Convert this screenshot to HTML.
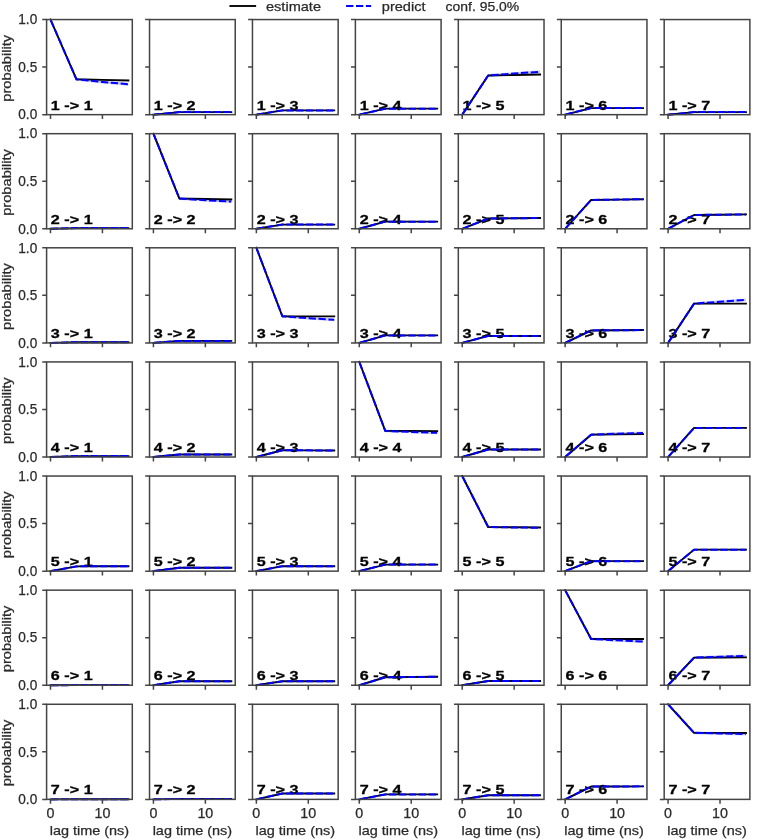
<!DOCTYPE html><html><head><meta charset="utf-8"><title>CK test</title><style>
html,body{margin:0;padding:0;background:#fff;}
svg{display:block;will-change:transform;}
text{font-family:"Liberation Sans",sans-serif;}
.r{stroke:#2a2a2a;stroke-width:0.25px;}
.b{font-weight:bold;stroke:#000;stroke-width:0.3px;}
</style></head><body>
<svg width="759" height="839" viewBox="0 0 759 839">
<rect x="0" y="0" width="759" height="839" fill="#fff"/>
<g>
<g>
<line x1="230.4" y1="6" x2="255.2" y2="6" stroke="#000" stroke-width="1.88" stroke-linecap="square"/>
<line x1="346.1" y1="6" x2="371.1" y2="6" stroke="#00f" stroke-width="1.88" stroke-dasharray="7.3 2.6"/>
<text x="266" y="10.65" font-size="13.2" class="r" fill="#2a2a2a" textLength="55" lengthAdjust="spacingAndGlyphs">estimate</text>
<text x="381.8" y="10.65" font-size="13.2" class="r" fill="#2a2a2a" textLength="43.67" lengthAdjust="spacingAndGlyphs">predict</text>
<text x="445.6" y="10.65" font-size="13.2" class="r" fill="#2a2a2a" textLength="73.59" lengthAdjust="spacingAndGlyphs">conf. 95.0%</text>
</g>
<g><text x="50.89" y="109.66" font-size="13.2" class="b" fill="#000" textLength="41.76" lengthAdjust="spacingAndGlyphs">1 -&gt; 1</text><polygon points="50.5,18.16 76.47,77.88 102.43,80.6 128.4,82.83 128.4,85.63 102.43,83.4 76.47,80.68 50.5,20.96" fill="#ccccff"/><polyline points="50.5,19.56 76.47,79.28 102.43,79.9 128.4,80.52" fill="none" stroke="#000" stroke-width="1.88" stroke-linejoin="round" stroke-linecap="square"/><polyline points="50.5,19.56 76.47,79.28 102.43,82 128.4,84.23" fill="none" stroke="#00f" stroke-width="2" stroke-dasharray="7.3 2.6" stroke-dashoffset="-0.6" stroke-linejoin="round"/><rect x="46.6" y="19.56" width="85.7" height="95.1" fill="none" stroke="#444" stroke-width="1.5"/><path d="M42.23 114.66H46.6M42.23 67.11H46.6M42.23 19.56H46.6M50.5 114.66V119.03M102.43 114.66V119.03" stroke="#444" stroke-width="1.5" fill="none"/><text x="37.2" y="119.4" font-size="13.8" class="r" fill="#2a2a2a" text-anchor="end" textLength="18.9" lengthAdjust="spacingAndGlyphs">0.0</text><text x="37.2" y="71.85" font-size="13.8" class="r" fill="#2a2a2a" text-anchor="end" textLength="18.9" lengthAdjust="spacingAndGlyphs">0.5</text><text x="37.2" y="24.3" font-size="13.8" class="r" fill="#2a2a2a" text-anchor="end" textLength="18.9" lengthAdjust="spacingAndGlyphs">1.0</text><text transform="translate(11 68.31) rotate(-90)" font-size="13.2" class="r" fill="#2a2a2a" text-anchor="middle" textLength="66.7" lengthAdjust="spacingAndGlyphs">probability</text></g>
<g><text x="153.81" y="109.66" font-size="13.2" class="b" fill="#000" textLength="41.76" lengthAdjust="spacingAndGlyphs">1 -&gt; 2</text><polyline points="153.43,114.66 179.4,112.09 205.36,112.09 231.33,112.09" fill="none" stroke="#000" stroke-width="1.88" stroke-linejoin="round" stroke-linecap="square"/><polyline points="153.43,114.66 179.4,112.09 205.36,112.09 231.33,112.09" fill="none" stroke="#00f" stroke-width="2" stroke-dasharray="7.3 2.6" stroke-dashoffset="-0.6" stroke-linejoin="round"/><rect x="149.53" y="19.56" width="85.7" height="95.1" fill="none" stroke="#444" stroke-width="1.5"/><path d="M145.16 114.66H149.53M145.16 67.11H149.53M145.16 19.56H149.53M153.43 114.66V119.03M205.36 114.66V119.03" stroke="#444" stroke-width="1.5" fill="none"/></g>
<g><text x="256.75" y="109.66" font-size="13.2" class="b" fill="#000" textLength="41.76" lengthAdjust="spacingAndGlyphs">1 -&gt; 3</text><polyline points="256.36,114.66 282.33,110.38 308.29,110.38 334.26,110.38" fill="none" stroke="#000" stroke-width="1.88" stroke-linejoin="round" stroke-linecap="square"/><polyline points="256.36,114.66 282.33,110.38 308.29,110.38 334.26,110.38" fill="none" stroke="#00f" stroke-width="2" stroke-dasharray="7.3 2.6" stroke-dashoffset="-0.6" stroke-linejoin="round"/><rect x="252.46" y="19.56" width="85.7" height="95.1" fill="none" stroke="#444" stroke-width="1.5"/><path d="M248.09 114.66H252.46M248.09 67.11H252.46M248.09 19.56H252.46M256.36 114.66V119.03M308.29 114.66V119.03" stroke="#444" stroke-width="1.5" fill="none"/></g>
<g><text x="359.68" y="109.66" font-size="13.2" class="b" fill="#000" textLength="41.76" lengthAdjust="spacingAndGlyphs">1 -&gt; 4</text><polyline points="359.29,114.66 385.26,108.67 411.22,108.67 437.19,108.67" fill="none" stroke="#000" stroke-width="1.88" stroke-linejoin="round" stroke-linecap="square"/><polyline points="359.29,114.66 385.26,108.67 411.22,108.67 437.19,108.67" fill="none" stroke="#00f" stroke-width="2" stroke-dasharray="7.3 2.6" stroke-dashoffset="-0.6" stroke-linejoin="round"/><rect x="355.39" y="19.56" width="85.7" height="95.1" fill="none" stroke="#444" stroke-width="1.5"/><path d="M351.02 114.66H355.39M351.02 67.11H355.39M351.02 19.56H355.39M359.29 114.66V119.03M411.22 114.66V119.03" stroke="#444" stroke-width="1.5" fill="none"/></g>
<g><text x="462.61" y="109.66" font-size="13.2" class="b" fill="#000" textLength="41.76" lengthAdjust="spacingAndGlyphs">1 -&gt; 5</text><polygon points="462.22,113.26 488.19,74.08 514.15,72.18 540.12,70.37 540.12,73.17 514.15,74.98 488.19,76.88 462.22,116.06" fill="#ccccff"/><polyline points="462.22,114.66 488.19,75.48 514.15,75 540.12,74.53" fill="none" stroke="#000" stroke-width="1.88" stroke-linejoin="round" stroke-linecap="square"/><polyline points="462.22,114.66 488.19,75.48 514.15,73.58 540.12,71.77" fill="none" stroke="#00f" stroke-width="2" stroke-dasharray="7.3 2.6" stroke-dashoffset="-0.6" stroke-linejoin="round"/><rect x="458.32" y="19.56" width="85.7" height="95.1" fill="none" stroke="#444" stroke-width="1.5"/><path d="M453.95 114.66H458.32M453.95 67.11H458.32M453.95 19.56H458.32M462.22 114.66V119.03M514.15 114.66V119.03" stroke="#444" stroke-width="1.5" fill="none"/></g>
<g><text x="565.54" y="109.66" font-size="13.2" class="b" fill="#000" textLength="41.76" lengthAdjust="spacingAndGlyphs">1 -&gt; 6</text><polyline points="565.15,114.66 591.12,108.1 617.08,108.1 643.05,108.1" fill="none" stroke="#000" stroke-width="1.88" stroke-linejoin="round" stroke-linecap="square"/><polyline points="565.15,114.66 591.12,108.1 617.08,108.1 643.05,108.1" fill="none" stroke="#00f" stroke-width="2" stroke-dasharray="7.3 2.6" stroke-dashoffset="-0.6" stroke-linejoin="round"/><rect x="561.25" y="19.56" width="85.7" height="95.1" fill="none" stroke="#444" stroke-width="1.5"/><path d="M556.88 114.66H561.25M556.88 67.11H561.25M556.88 19.56H561.25M565.15 114.66V119.03M617.08 114.66V119.03" stroke="#444" stroke-width="1.5" fill="none"/></g>
<g><text x="668.47" y="109.66" font-size="13.2" class="b" fill="#000" textLength="41.76" lengthAdjust="spacingAndGlyphs">1 -&gt; 7</text><polyline points="668.08,114.66 694.05,112.09 720.01,112.09 745.98,112.09" fill="none" stroke="#000" stroke-width="1.88" stroke-linejoin="round" stroke-linecap="square"/><polyline points="668.08,114.66 694.05,112.09 720.01,112.09 745.98,112.09" fill="none" stroke="#00f" stroke-width="2" stroke-dasharray="7.3 2.6" stroke-dashoffset="-0.6" stroke-linejoin="round"/><rect x="664.18" y="19.56" width="85.7" height="95.1" fill="none" stroke="#444" stroke-width="1.5"/><path d="M659.81 114.66H664.18M659.81 67.11H664.18M659.81 19.56H664.18M668.08 114.66V119.03M720.01 114.66V119.03" stroke="#444" stroke-width="1.5" fill="none"/></g>
<g><text x="50.89" y="223.78" font-size="13.2" class="b" fill="#000" textLength="41.76" lengthAdjust="spacingAndGlyphs">2 -&gt; 1</text><polyline points="50.5,228.78 76.47,228.11 102.43,228.11 128.4,228.11" fill="none" stroke="#000" stroke-width="1.88" stroke-linejoin="round" stroke-linecap="square"/><polyline points="50.5,228.78 76.47,228.11 102.43,228.11 128.4,228.11" fill="none" stroke="#00f" stroke-width="2" stroke-dasharray="7.3 2.6" stroke-dashoffset="-0.6" stroke-linejoin="round"/><rect x="46.6" y="133.68" width="85.7" height="95.1" fill="none" stroke="#444" stroke-width="1.5"/><path d="M42.23 228.78H46.6M42.23 181.23H46.6M42.23 133.68H46.6M50.5 228.78V233.16M102.43 228.78V233.16" stroke="#444" stroke-width="1.5" fill="none"/><text x="37.2" y="233.52" font-size="13.8" class="r" fill="#2a2a2a" text-anchor="end" textLength="18.9" lengthAdjust="spacingAndGlyphs">0.0</text><text x="37.2" y="185.97" font-size="13.8" class="r" fill="#2a2a2a" text-anchor="end" textLength="18.9" lengthAdjust="spacingAndGlyphs">0.5</text><text x="37.2" y="138.42" font-size="13.8" class="r" fill="#2a2a2a" text-anchor="end" textLength="18.9" lengthAdjust="spacingAndGlyphs">1.0</text><text transform="translate(11 182.43) rotate(-90)" font-size="13.2" class="r" fill="#2a2a2a" text-anchor="middle" textLength="66.7" lengthAdjust="spacingAndGlyphs">probability</text></g>
<g><text x="153.81" y="223.78" font-size="13.2" class="b" fill="#000" textLength="41.76" lengthAdjust="spacingAndGlyphs">2 -&gt; 2</text><polygon points="153.43,132.28 179.4,197.14 205.36,198.81 231.33,200.18 231.33,202.98 205.36,201.61 179.4,199.94 153.43,135.08" fill="#ccccff"/><polyline points="153.43,133.68 179.4,198.54 205.36,199.01 231.33,199.49" fill="none" stroke="#000" stroke-width="1.88" stroke-linejoin="round" stroke-linecap="square"/><polyline points="153.43,133.68 179.4,198.54 205.36,200.21 231.33,201.58" fill="none" stroke="#00f" stroke-width="2" stroke-dasharray="7.3 2.6" stroke-dashoffset="-0.6" stroke-linejoin="round"/><rect x="149.53" y="133.68" width="85.7" height="95.1" fill="none" stroke="#444" stroke-width="1.5"/><path d="M145.16 228.78H149.53M145.16 181.23H149.53M145.16 133.68H149.53M153.43 228.78V233.16M205.36 228.78V233.16" stroke="#444" stroke-width="1.5" fill="none"/></g>
<g><text x="256.75" y="223.78" font-size="13.2" class="b" fill="#000" textLength="41.76" lengthAdjust="spacingAndGlyphs">2 -&gt; 3</text><polyline points="256.36,228.78 282.33,224.6 308.29,224.6 334.26,224.6" fill="none" stroke="#000" stroke-width="1.88" stroke-linejoin="round" stroke-linecap="square"/><polyline points="256.36,228.78 282.33,224.6 308.29,224.6 334.26,224.6" fill="none" stroke="#00f" stroke-width="2" stroke-dasharray="7.3 2.6" stroke-dashoffset="-0.6" stroke-linejoin="round"/><rect x="252.46" y="133.68" width="85.7" height="95.1" fill="none" stroke="#444" stroke-width="1.5"/><path d="M248.09 228.78H252.46M248.09 181.23H252.46M248.09 133.68H252.46M256.36 228.78V233.16M308.29 228.78V233.16" stroke="#444" stroke-width="1.5" fill="none"/></g>
<g><text x="359.68" y="223.78" font-size="13.2" class="b" fill="#000" textLength="41.76" lengthAdjust="spacingAndGlyphs">2 -&gt; 4</text><polyline points="359.29,228.78 385.26,221.65 411.22,221.65 437.19,221.65" fill="none" stroke="#000" stroke-width="1.88" stroke-linejoin="round" stroke-linecap="square"/><polyline points="359.29,228.78 385.26,221.65 411.22,221.65 437.19,221.65" fill="none" stroke="#00f" stroke-width="2" stroke-dasharray="7.3 2.6" stroke-dashoffset="-0.6" stroke-linejoin="round"/><rect x="355.39" y="133.68" width="85.7" height="95.1" fill="none" stroke="#444" stroke-width="1.5"/><path d="M351.02 228.78H355.39M351.02 181.23H355.39M351.02 133.68H355.39M359.29 228.78V233.16M411.22 228.78V233.16" stroke="#444" stroke-width="1.5" fill="none"/></g>
<g><text x="462.61" y="223.78" font-size="13.2" class="b" fill="#000" textLength="41.76" lengthAdjust="spacingAndGlyphs">2 -&gt; 5</text><polyline points="462.22,228.78 488.19,218.51 514.15,218.27 540.12,218.03" fill="none" stroke="#000" stroke-width="1.88" stroke-linejoin="round" stroke-linecap="square"/><polyline points="462.22,228.78 488.19,218.51 514.15,218.25 540.12,218.03" fill="none" stroke="#00f" stroke-width="2" stroke-dasharray="7.3 2.6" stroke-dashoffset="-0.6" stroke-linejoin="round"/><rect x="458.32" y="133.68" width="85.7" height="95.1" fill="none" stroke="#444" stroke-width="1.5"/><path d="M453.95 228.78H458.32M453.95 181.23H458.32M453.95 133.68H458.32M462.22 228.78V233.16M514.15 228.78V233.16" stroke="#444" stroke-width="1.5" fill="none"/></g>
<g><text x="565.54" y="223.78" font-size="13.2" class="b" fill="#000" textLength="41.76" lengthAdjust="spacingAndGlyphs">2 -&gt; 6</text><polyline points="565.15,228.78 591.12,199.96 617.08,199.58 643.05,199.2" fill="none" stroke="#000" stroke-width="1.88" stroke-linejoin="round" stroke-linecap="square"/><polyline points="565.15,228.78 591.12,199.96 617.08,199.55 643.05,199.2" fill="none" stroke="#00f" stroke-width="2" stroke-dasharray="7.3 2.6" stroke-dashoffset="-0.6" stroke-linejoin="round"/><rect x="561.25" y="133.68" width="85.7" height="95.1" fill="none" stroke="#444" stroke-width="1.5"/><path d="M556.88 228.78H561.25M556.88 181.23H561.25M556.88 133.68H561.25M565.15 228.78V233.16M617.08 228.78V233.16" stroke="#444" stroke-width="1.5" fill="none"/></g>
<g><text x="668.47" y="223.78" font-size="13.2" class="b" fill="#000" textLength="41.76" lengthAdjust="spacingAndGlyphs">2 -&gt; 7</text><polyline points="668.08,228.78 694.05,214.99 720.01,214.71 745.98,214.42" fill="none" stroke="#000" stroke-width="1.88" stroke-linejoin="round" stroke-linecap="square"/><polyline points="668.08,228.78 694.05,214.99 720.01,214.68 745.98,214.42" fill="none" stroke="#00f" stroke-width="2" stroke-dasharray="7.3 2.6" stroke-dashoffset="-0.6" stroke-linejoin="round"/><rect x="664.18" y="133.68" width="85.7" height="95.1" fill="none" stroke="#444" stroke-width="1.5"/><path d="M659.81 228.78H664.18M659.81 181.23H664.18M659.81 133.68H664.18M668.08 228.78V233.16M720.01 228.78V233.16" stroke="#444" stroke-width="1.5" fill="none"/></g>
<g><text x="50.89" y="337.9" font-size="13.2" class="b" fill="#000" textLength="41.76" lengthAdjust="spacingAndGlyphs">3 -&gt; 1</text><polyline points="50.5,342.9 76.47,342.23 102.43,342.23 128.4,342.23" fill="none" stroke="#000" stroke-width="1.88" stroke-linejoin="round" stroke-linecap="square"/><polyline points="50.5,342.9 76.47,342.23 102.43,342.23 128.4,342.23" fill="none" stroke="#00f" stroke-width="2" stroke-dasharray="7.3 2.6" stroke-dashoffset="-0.6" stroke-linejoin="round"/><rect x="46.6" y="247.8" width="85.7" height="95.1" fill="none" stroke="#444" stroke-width="1.5"/><path d="M42.23 342.9H46.6M42.23 295.35H46.6M42.23 247.8H46.6M50.5 342.9V347.27M102.43 342.9V347.27" stroke="#444" stroke-width="1.5" fill="none"/><text x="37.2" y="347.64" font-size="13.8" class="r" fill="#2a2a2a" text-anchor="end" textLength="18.9" lengthAdjust="spacingAndGlyphs">0.0</text><text x="37.2" y="300.09" font-size="13.8" class="r" fill="#2a2a2a" text-anchor="end" textLength="18.9" lengthAdjust="spacingAndGlyphs">0.5</text><text x="37.2" y="252.54" font-size="13.8" class="r" fill="#2a2a2a" text-anchor="end" textLength="18.9" lengthAdjust="spacingAndGlyphs">1.0</text><text transform="translate(11 296.55) rotate(-90)" font-size="13.2" class="r" fill="#2a2a2a" text-anchor="middle" textLength="66.7" lengthAdjust="spacingAndGlyphs">probability</text></g>
<g><text x="153.81" y="337.9" font-size="13.2" class="b" fill="#000" textLength="41.76" lengthAdjust="spacingAndGlyphs">3 -&gt; 2</text><polyline points="153.43,342.9 179.4,340.9 205.36,340.9 231.33,340.9" fill="none" stroke="#000" stroke-width="1.88" stroke-linejoin="round" stroke-linecap="square"/><polyline points="153.43,342.9 179.4,340.9 205.36,340.9 231.33,340.9" fill="none" stroke="#00f" stroke-width="2" stroke-dasharray="7.3 2.6" stroke-dashoffset="-0.6" stroke-linejoin="round"/><rect x="149.53" y="247.8" width="85.7" height="95.1" fill="none" stroke="#444" stroke-width="1.5"/><path d="M145.16 342.9H149.53M145.16 295.35H149.53M145.16 247.8H149.53M153.43 342.9V347.27M205.36 342.9V347.27" stroke="#444" stroke-width="1.5" fill="none"/></g>
<g><text x="256.75" y="337.9" font-size="13.2" class="b" fill="#000" textLength="41.76" lengthAdjust="spacingAndGlyphs">3 -&gt; 3</text><polygon points="256.36,246.4 282.33,314.87 308.29,316.81 334.26,318.39 334.26,321.19 308.29,319.61 282.33,317.67 256.36,249.2" fill="#ccccff"/><polyline points="256.36,247.8 282.33,316.27 308.29,316.32 334.26,316.37" fill="none" stroke="#000" stroke-width="1.88" stroke-linejoin="round" stroke-linecap="square"/><polyline points="256.36,247.8 282.33,316.27 308.29,318.21 334.26,319.79" fill="none" stroke="#00f" stroke-width="2" stroke-dasharray="7.3 2.6" stroke-dashoffset="-0.6" stroke-linejoin="round"/><rect x="252.46" y="247.8" width="85.7" height="95.1" fill="none" stroke="#444" stroke-width="1.5"/><path d="M248.09 342.9H252.46M248.09 295.35H252.46M248.09 247.8H252.46M256.36 342.9V347.27M308.29 342.9V347.27" stroke="#444" stroke-width="1.5" fill="none"/></g>
<g><text x="359.68" y="337.9" font-size="13.2" class="b" fill="#000" textLength="41.76" lengthAdjust="spacingAndGlyphs">3 -&gt; 4</text><polyline points="359.29,342.9 385.26,335.39 411.22,335.39 437.19,335.39" fill="none" stroke="#000" stroke-width="1.88" stroke-linejoin="round" stroke-linecap="square"/><polyline points="359.29,342.9 385.26,335.39 411.22,335.39 437.19,335.39" fill="none" stroke="#00f" stroke-width="2" stroke-dasharray="7.3 2.6" stroke-dashoffset="-0.6" stroke-linejoin="round"/><rect x="355.39" y="247.8" width="85.7" height="95.1" fill="none" stroke="#444" stroke-width="1.5"/><path d="M351.02 342.9H355.39M351.02 295.35H355.39M351.02 247.8H355.39M359.29 342.9V347.27M411.22 342.9V347.27" stroke="#444" stroke-width="1.5" fill="none"/></g>
<g><text x="462.61" y="337.9" font-size="13.2" class="b" fill="#000" textLength="41.76" lengthAdjust="spacingAndGlyphs">3 -&gt; 5</text><polyline points="462.22,342.9 488.19,335.96 514.15,335.96 540.12,335.96" fill="none" stroke="#000" stroke-width="1.88" stroke-linejoin="round" stroke-linecap="square"/><polyline points="462.22,342.9 488.19,335.96 514.15,335.96 540.12,335.96" fill="none" stroke="#00f" stroke-width="2" stroke-dasharray="7.3 2.6" stroke-dashoffset="-0.6" stroke-linejoin="round"/><rect x="458.32" y="247.8" width="85.7" height="95.1" fill="none" stroke="#444" stroke-width="1.5"/><path d="M453.95 342.9H458.32M453.95 295.35H458.32M453.95 247.8H458.32M462.22 342.9V347.27M514.15 342.9V347.27" stroke="#444" stroke-width="1.5" fill="none"/></g>
<g><text x="565.54" y="337.9" font-size="13.2" class="b" fill="#000" textLength="41.76" lengthAdjust="spacingAndGlyphs">3 -&gt; 6</text><polyline points="565.15,342.9 591.12,330.44 617.08,330.25 643.05,330.06" fill="none" stroke="#000" stroke-width="1.88" stroke-linejoin="round" stroke-linecap="square"/><polyline points="565.15,342.9 591.12,330.44 617.08,330.23 643.05,330.06" fill="none" stroke="#00f" stroke-width="2" stroke-dasharray="7.3 2.6" stroke-dashoffset="-0.6" stroke-linejoin="round"/><rect x="561.25" y="247.8" width="85.7" height="95.1" fill="none" stroke="#444" stroke-width="1.5"/><path d="M556.88 342.9H561.25M556.88 295.35H561.25M556.88 247.8H561.25M565.15 342.9V347.27M617.08 342.9V347.27" stroke="#444" stroke-width="1.5" fill="none"/></g>
<g><text x="668.47" y="337.9" font-size="13.2" class="b" fill="#000" textLength="41.76" lengthAdjust="spacingAndGlyphs">3 -&gt; 7</text><polygon points="668.08,341.5 694.05,302.22 720.01,300.32 745.98,298.51 745.98,301.31 720.01,303.12 694.05,305.02 668.08,344.3" fill="#ccccff"/><polyline points="668.08,342.9 694.05,303.62 720.01,303.62 745.98,303.62" fill="none" stroke="#000" stroke-width="1.88" stroke-linejoin="round" stroke-linecap="square"/><polyline points="668.08,342.9 694.05,303.62 720.01,301.72 745.98,299.91" fill="none" stroke="#00f" stroke-width="2" stroke-dasharray="7.3 2.6" stroke-dashoffset="-0.6" stroke-linejoin="round"/><rect x="664.18" y="247.8" width="85.7" height="95.1" fill="none" stroke="#444" stroke-width="1.5"/><path d="M659.81 342.9H664.18M659.81 295.35H664.18M659.81 247.8H664.18M668.08 342.9V347.27M720.01 342.9V347.27" stroke="#444" stroke-width="1.5" fill="none"/></g>
<g><text x="50.89" y="452.02" font-size="13.2" class="b" fill="#000" textLength="41.76" lengthAdjust="spacingAndGlyphs">4 -&gt; 1</text><polyline points="50.5,457.02 76.47,456.07 102.43,456.07 128.4,456.07" fill="none" stroke="#000" stroke-width="1.88" stroke-linejoin="round" stroke-linecap="square"/><polyline points="50.5,457.02 76.47,456.07 102.43,456.07 128.4,456.07" fill="none" stroke="#00f" stroke-width="2" stroke-dasharray="7.3 2.6" stroke-dashoffset="-0.6" stroke-linejoin="round"/><rect x="46.6" y="361.92" width="85.7" height="95.1" fill="none" stroke="#444" stroke-width="1.5"/><path d="M42.23 457.02H46.6M42.23 409.47H46.6M42.23 361.92H46.6M50.5 457.02V461.39M102.43 457.02V461.39" stroke="#444" stroke-width="1.5" fill="none"/><text x="37.2" y="461.76" font-size="13.8" class="r" fill="#2a2a2a" text-anchor="end" textLength="18.9" lengthAdjust="spacingAndGlyphs">0.0</text><text x="37.2" y="414.21" font-size="13.8" class="r" fill="#2a2a2a" text-anchor="end" textLength="18.9" lengthAdjust="spacingAndGlyphs">0.5</text><text x="37.2" y="366.66" font-size="13.8" class="r" fill="#2a2a2a" text-anchor="end" textLength="18.9" lengthAdjust="spacingAndGlyphs">1.0</text><text transform="translate(11 410.67) rotate(-90)" font-size="13.2" class="r" fill="#2a2a2a" text-anchor="middle" textLength="66.7" lengthAdjust="spacingAndGlyphs">probability</text></g>
<g><text x="153.81" y="452.02" font-size="13.2" class="b" fill="#000" textLength="41.76" lengthAdjust="spacingAndGlyphs">4 -&gt; 2</text><polyline points="153.43,457.02 179.4,454.45 205.36,454.45 231.33,454.45" fill="none" stroke="#000" stroke-width="1.88" stroke-linejoin="round" stroke-linecap="square"/><polyline points="153.43,457.02 179.4,454.45 205.36,454.45 231.33,454.45" fill="none" stroke="#00f" stroke-width="2" stroke-dasharray="7.3 2.6" stroke-dashoffset="-0.6" stroke-linejoin="round"/><rect x="149.53" y="361.92" width="85.7" height="95.1" fill="none" stroke="#444" stroke-width="1.5"/><path d="M145.16 457.02H149.53M145.16 409.47H149.53M145.16 361.92H149.53M153.43 457.02V461.39M205.36 457.02V461.39" stroke="#444" stroke-width="1.5" fill="none"/></g>
<g><text x="256.75" y="452.02" font-size="13.2" class="b" fill="#000" textLength="41.76" lengthAdjust="spacingAndGlyphs">4 -&gt; 3</text><polyline points="256.36,457.02 282.33,450.27 308.29,450.36 334.26,450.46" fill="none" stroke="#000" stroke-width="1.88" stroke-linejoin="round" stroke-linecap="square"/><polyline points="256.36,457.02 282.33,450.27 308.29,450.37 334.26,450.46" fill="none" stroke="#00f" stroke-width="2" stroke-dasharray="7.3 2.6" stroke-dashoffset="-0.6" stroke-linejoin="round"/><rect x="252.46" y="361.92" width="85.7" height="95.1" fill="none" stroke="#444" stroke-width="1.5"/><path d="M248.09 457.02H252.46M248.09 409.47H252.46M248.09 361.92H252.46M256.36 457.02V461.39M308.29 457.02V461.39" stroke="#444" stroke-width="1.5" fill="none"/></g>
<g><text x="359.68" y="452.02" font-size="13.2" class="b" fill="#000" textLength="41.76" lengthAdjust="spacingAndGlyphs">4 -&gt; 4</text><polygon points="359.29,360.52 385.26,429.47 411.22,430.57 437.19,431.46 437.19,434.26 411.22,433.37 385.26,432.27 359.29,363.32" fill="#ccccff"/><polyline points="359.29,361.92 385.26,430.87 411.22,431.01 437.19,431.15" fill="none" stroke="#000" stroke-width="1.88" stroke-linejoin="round" stroke-linecap="square"/><polyline points="359.29,361.92 385.26,430.87 411.22,431.97 437.19,432.86" fill="none" stroke="#00f" stroke-width="2" stroke-dasharray="7.3 2.6" stroke-dashoffset="-0.6" stroke-linejoin="round"/><rect x="355.39" y="361.92" width="85.7" height="95.1" fill="none" stroke="#444" stroke-width="1.5"/><path d="M351.02 457.02H355.39M351.02 409.47H355.39M351.02 361.92H355.39M359.29 457.02V461.39M411.22 457.02V461.39" stroke="#444" stroke-width="1.5" fill="none"/></g>
<g><text x="462.61" y="452.02" font-size="13.2" class="b" fill="#000" textLength="41.76" lengthAdjust="spacingAndGlyphs">4 -&gt; 5</text><polyline points="462.22,457.02 488.19,449.51 514.15,449.51 540.12,449.51" fill="none" stroke="#000" stroke-width="1.88" stroke-linejoin="round" stroke-linecap="square"/><polyline points="462.22,457.02 488.19,449.51 514.15,449.51 540.12,449.51" fill="none" stroke="#00f" stroke-width="2" stroke-dasharray="7.3 2.6" stroke-dashoffset="-0.6" stroke-linejoin="round"/><rect x="458.32" y="361.92" width="85.7" height="95.1" fill="none" stroke="#444" stroke-width="1.5"/><path d="M453.95 457.02H458.32M453.95 409.47H458.32M453.95 361.92H458.32M462.22 457.02V461.39M514.15 457.02V461.39" stroke="#444" stroke-width="1.5" fill="none"/></g>
<g><text x="565.54" y="452.02" font-size="13.2" class="b" fill="#000" textLength="41.76" lengthAdjust="spacingAndGlyphs">4 -&gt; 6</text><polygon points="565.15,455.62 591.12,433.27 617.08,432.33 643.05,431.56 643.05,434.36 617.08,435.13 591.12,436.07 565.15,458.42" fill="#ccccff"/><polyline points="565.15,457.02 591.12,434.67 617.08,434.39 643.05,434.1" fill="none" stroke="#000" stroke-width="1.88" stroke-linejoin="round" stroke-linecap="square"/><polyline points="565.15,457.02 591.12,434.67 617.08,433.73 643.05,432.96" fill="none" stroke="#00f" stroke-width="2" stroke-dasharray="7.3 2.6" stroke-dashoffset="-0.6" stroke-linejoin="round"/><rect x="561.25" y="361.92" width="85.7" height="95.1" fill="none" stroke="#444" stroke-width="1.5"/><path d="M556.88 457.02H561.25M556.88 409.47H561.25M556.88 361.92H561.25M565.15 457.02V461.39M617.08 457.02V461.39" stroke="#444" stroke-width="1.5" fill="none"/></g>
<g><text x="668.47" y="452.02" font-size="13.2" class="b" fill="#000" textLength="41.76" lengthAdjust="spacingAndGlyphs">4 -&gt; 7</text><polyline points="668.08,457.02 694.05,427.92 720.01,427.92 745.98,427.92" fill="none" stroke="#000" stroke-width="1.88" stroke-linejoin="round" stroke-linecap="square"/><polyline points="668.08,457.02 694.05,427.92 720.01,427.92 745.98,427.92" fill="none" stroke="#00f" stroke-width="2" stroke-dasharray="7.3 2.6" stroke-dashoffset="-0.6" stroke-linejoin="round"/><rect x="664.18" y="361.92" width="85.7" height="95.1" fill="none" stroke="#444" stroke-width="1.5"/><path d="M659.81 457.02H664.18M659.81 409.47H664.18M659.81 361.92H664.18M668.08 457.02V461.39M720.01 457.02V461.39" stroke="#444" stroke-width="1.5" fill="none"/></g>
<g><text x="50.89" y="566.14" font-size="13.2" class="b" fill="#000" textLength="41.76" lengthAdjust="spacingAndGlyphs">5 -&gt; 1</text><polyline points="50.5,571.14 76.47,566.38 102.43,566.29 128.4,566.19" fill="none" stroke="#000" stroke-width="1.88" stroke-linejoin="round" stroke-linecap="square"/><polyline points="50.5,571.14 76.47,566.38 102.43,566.28 128.4,566.19" fill="none" stroke="#00f" stroke-width="2" stroke-dasharray="7.3 2.6" stroke-dashoffset="-0.6" stroke-linejoin="round"/><rect x="46.6" y="476.04" width="85.7" height="95.1" fill="none" stroke="#444" stroke-width="1.5"/><path d="M42.23 571.14H46.6M42.23 523.59H46.6M42.23 476.04H46.6M50.5 571.14V575.51M102.43 571.14V575.51" stroke="#444" stroke-width="1.5" fill="none"/><text x="37.2" y="575.88" font-size="13.8" class="r" fill="#2a2a2a" text-anchor="end" textLength="18.9" lengthAdjust="spacingAndGlyphs">0.0</text><text x="37.2" y="528.33" font-size="13.8" class="r" fill="#2a2a2a" text-anchor="end" textLength="18.9" lengthAdjust="spacingAndGlyphs">0.5</text><text x="37.2" y="480.78" font-size="13.8" class="r" fill="#2a2a2a" text-anchor="end" textLength="18.9" lengthAdjust="spacingAndGlyphs">1.0</text><text transform="translate(11 524.79) rotate(-90)" font-size="13.2" class="r" fill="#2a2a2a" text-anchor="middle" textLength="66.7" lengthAdjust="spacingAndGlyphs">probability</text></g>
<g><text x="153.81" y="566.14" font-size="13.2" class="b" fill="#000" textLength="41.76" lengthAdjust="spacingAndGlyphs">5 -&gt; 2</text><polyline points="153.43,571.14 179.4,567.72 205.36,567.72 231.33,567.72" fill="none" stroke="#000" stroke-width="1.88" stroke-linejoin="round" stroke-linecap="square"/><polyline points="153.43,571.14 179.4,567.72 205.36,567.72 231.33,567.72" fill="none" stroke="#00f" stroke-width="2" stroke-dasharray="7.3 2.6" stroke-dashoffset="-0.6" stroke-linejoin="round"/><rect x="149.53" y="476.04" width="85.7" height="95.1" fill="none" stroke="#444" stroke-width="1.5"/><path d="M145.16 571.14H149.53M145.16 523.59H149.53M145.16 476.04H149.53M153.43 571.14V575.51M205.36 571.14V575.51" stroke="#444" stroke-width="1.5" fill="none"/></g>
<g><text x="256.75" y="566.14" font-size="13.2" class="b" fill="#000" textLength="41.76" lengthAdjust="spacingAndGlyphs">5 -&gt; 3</text><polyline points="256.36,571.14 282.33,566.19 308.29,566.19 334.26,566.19" fill="none" stroke="#000" stroke-width="1.88" stroke-linejoin="round" stroke-linecap="square"/><polyline points="256.36,571.14 282.33,566.19 308.29,566.19 334.26,566.19" fill="none" stroke="#00f" stroke-width="2" stroke-dasharray="7.3 2.6" stroke-dashoffset="-0.6" stroke-linejoin="round"/><rect x="252.46" y="476.04" width="85.7" height="95.1" fill="none" stroke="#444" stroke-width="1.5"/><path d="M248.09 571.14H252.46M248.09 523.59H252.46M248.09 476.04H252.46M256.36 571.14V575.51M308.29 571.14V575.51" stroke="#444" stroke-width="1.5" fill="none"/></g>
<g><text x="359.68" y="566.14" font-size="13.2" class="b" fill="#000" textLength="41.76" lengthAdjust="spacingAndGlyphs">5 -&gt; 4</text><polyline points="359.29,571.14 385.26,564.58 411.22,564.58 437.19,564.58" fill="none" stroke="#000" stroke-width="1.88" stroke-linejoin="round" stroke-linecap="square"/><polyline points="359.29,571.14 385.26,564.58 411.22,564.58 437.19,564.58" fill="none" stroke="#00f" stroke-width="2" stroke-dasharray="7.3 2.6" stroke-dashoffset="-0.6" stroke-linejoin="round"/><rect x="355.39" y="476.04" width="85.7" height="95.1" fill="none" stroke="#444" stroke-width="1.5"/><path d="M351.02 571.14H355.39M351.02 523.59H355.39M351.02 476.04H355.39M359.29 571.14V575.51M411.22 571.14V575.51" stroke="#444" stroke-width="1.5" fill="none"/></g>
<g><text x="462.61" y="566.14" font-size="13.2" class="b" fill="#000" textLength="41.76" lengthAdjust="spacingAndGlyphs">5 -&gt; 5</text><polyline points="462.22,476.04 488.19,527.01 514.15,527.25 540.12,527.49" fill="none" stroke="#000" stroke-width="1.88" stroke-linejoin="round" stroke-linecap="square"/><polyline points="462.22,476.04 488.19,527.01 514.15,527.43 540.12,527.77" fill="none" stroke="#00f" stroke-width="2" stroke-dasharray="7.3 2.6" stroke-dashoffset="-0.6" stroke-linejoin="round"/><rect x="458.32" y="476.04" width="85.7" height="95.1" fill="none" stroke="#444" stroke-width="1.5"/><path d="M453.95 571.14H458.32M453.95 523.59H458.32M453.95 476.04H458.32M462.22 571.14V575.51M514.15 571.14V575.51" stroke="#444" stroke-width="1.5" fill="none"/></g>
<g><text x="565.54" y="566.14" font-size="13.2" class="b" fill="#000" textLength="41.76" lengthAdjust="spacingAndGlyphs">5 -&gt; 6</text><polyline points="565.15,571.14 591.12,561.15 617.08,561.15 643.05,561.15" fill="none" stroke="#000" stroke-width="1.88" stroke-linejoin="round" stroke-linecap="square"/><polyline points="565.15,571.14 591.12,561.15 617.08,561.15 643.05,561.15" fill="none" stroke="#00f" stroke-width="2" stroke-dasharray="7.3 2.6" stroke-dashoffset="-0.6" stroke-linejoin="round"/><rect x="561.25" y="476.04" width="85.7" height="95.1" fill="none" stroke="#444" stroke-width="1.5"/><path d="M556.88 571.14H561.25M556.88 523.59H561.25M556.88 476.04H561.25M565.15 571.14V575.51M617.08 571.14V575.51" stroke="#444" stroke-width="1.5" fill="none"/></g>
<g><text x="668.47" y="566.14" font-size="13.2" class="b" fill="#000" textLength="41.76" lengthAdjust="spacingAndGlyphs">5 -&gt; 7</text><polyline points="668.08,571.14 694.05,549.65 720.01,549.65 745.98,549.65" fill="none" stroke="#000" stroke-width="1.88" stroke-linejoin="round" stroke-linecap="square"/><polyline points="668.08,571.14 694.05,549.65 720.01,549.65 745.98,549.65" fill="none" stroke="#00f" stroke-width="2" stroke-dasharray="7.3 2.6" stroke-dashoffset="-0.6" stroke-linejoin="round"/><rect x="664.18" y="476.04" width="85.7" height="95.1" fill="none" stroke="#444" stroke-width="1.5"/><path d="M659.81 571.14H664.18M659.81 523.59H664.18M659.81 476.04H664.18M668.08 571.14V575.51M720.01 571.14V575.51" stroke="#444" stroke-width="1.5" fill="none"/></g>
<g><text x="50.89" y="680.26" font-size="13.2" class="b" fill="#000" textLength="41.76" lengthAdjust="spacingAndGlyphs">6 -&gt; 1</text><polyline points="50.5,685.26 76.47,685.07 102.43,685.07 128.4,685.07" fill="none" stroke="#000" stroke-width="1.88" stroke-linejoin="round" stroke-linecap="square"/><polyline points="50.5,685.26 76.47,685.07 102.43,685.07 128.4,685.07" fill="none" stroke="#00f" stroke-width="2" stroke-dasharray="7.3 2.6" stroke-dashoffset="-0.6" stroke-linejoin="round"/><rect x="46.6" y="590.16" width="85.7" height="95.1" fill="none" stroke="#444" stroke-width="1.5"/><path d="M42.23 685.26H46.6M42.23 637.71H46.6M42.23 590.16H46.6M50.5 685.26V689.63M102.43 685.26V689.63" stroke="#444" stroke-width="1.5" fill="none"/><text x="37.2" y="690" font-size="13.8" class="r" fill="#2a2a2a" text-anchor="end" textLength="18.9" lengthAdjust="spacingAndGlyphs">0.0</text><text x="37.2" y="642.45" font-size="13.8" class="r" fill="#2a2a2a" text-anchor="end" textLength="18.9" lengthAdjust="spacingAndGlyphs">0.5</text><text x="37.2" y="594.9" font-size="13.8" class="r" fill="#2a2a2a" text-anchor="end" textLength="18.9" lengthAdjust="spacingAndGlyphs">1.0</text><text transform="translate(11 638.91) rotate(-90)" font-size="13.2" class="r" fill="#2a2a2a" text-anchor="middle" textLength="66.7" lengthAdjust="spacingAndGlyphs">probability</text></g>
<g><text x="153.81" y="680.26" font-size="13.2" class="b" fill="#000" textLength="41.76" lengthAdjust="spacingAndGlyphs">6 -&gt; 2</text><polyline points="153.43,685.26 179.4,681.27 205.36,681.27 231.33,681.27" fill="none" stroke="#000" stroke-width="1.88" stroke-linejoin="round" stroke-linecap="square"/><polyline points="153.43,685.26 179.4,681.27 205.36,681.27 231.33,681.27" fill="none" stroke="#00f" stroke-width="2" stroke-dasharray="7.3 2.6" stroke-dashoffset="-0.6" stroke-linejoin="round"/><rect x="149.53" y="590.16" width="85.7" height="95.1" fill="none" stroke="#444" stroke-width="1.5"/><path d="M145.16 685.26H149.53M145.16 637.71H149.53M145.16 590.16H149.53M153.43 685.26V689.63M205.36 685.26V689.63" stroke="#444" stroke-width="1.5" fill="none"/></g>
<g><text x="256.75" y="680.26" font-size="13.2" class="b" fill="#000" textLength="41.76" lengthAdjust="spacingAndGlyphs">6 -&gt; 3</text><polyline points="256.36,685.26 282.33,681.27 308.29,681.27 334.26,681.27" fill="none" stroke="#000" stroke-width="1.88" stroke-linejoin="round" stroke-linecap="square"/><polyline points="256.36,685.26 282.33,681.27 308.29,681.27 334.26,681.27" fill="none" stroke="#00f" stroke-width="2" stroke-dasharray="7.3 2.6" stroke-dashoffset="-0.6" stroke-linejoin="round"/><rect x="252.46" y="590.16" width="85.7" height="95.1" fill="none" stroke="#444" stroke-width="1.5"/><path d="M248.09 685.26H252.46M248.09 637.71H252.46M248.09 590.16H252.46M256.36 685.26V689.63M308.29 685.26V689.63" stroke="#444" stroke-width="1.5" fill="none"/></g>
<g><text x="359.68" y="680.26" font-size="13.2" class="b" fill="#000" textLength="41.76" lengthAdjust="spacingAndGlyphs">6 -&gt; 4</text><polyline points="359.29,685.26 385.26,677.27 411.22,677.03 437.19,676.8" fill="none" stroke="#000" stroke-width="1.88" stroke-linejoin="round" stroke-linecap="square"/><polyline points="359.29,685.26 385.26,677.27 411.22,677.01 437.19,676.8" fill="none" stroke="#00f" stroke-width="2" stroke-dasharray="7.3 2.6" stroke-dashoffset="-0.6" stroke-linejoin="round"/><rect x="355.39" y="590.16" width="85.7" height="95.1" fill="none" stroke="#444" stroke-width="1.5"/><path d="M351.02 685.26H355.39M351.02 637.71H355.39M351.02 590.16H355.39M359.29 685.26V689.63M411.22 685.26V689.63" stroke="#444" stroke-width="1.5" fill="none"/></g>
<g><text x="462.61" y="680.26" font-size="13.2" class="b" fill="#000" textLength="41.76" lengthAdjust="spacingAndGlyphs">6 -&gt; 5</text><polyline points="462.22,685.26 488.19,680.98 514.15,680.98 540.12,680.98" fill="none" stroke="#000" stroke-width="1.88" stroke-linejoin="round" stroke-linecap="square"/><polyline points="462.22,685.26 488.19,680.98 514.15,680.98 540.12,680.98" fill="none" stroke="#00f" stroke-width="2" stroke-dasharray="7.3 2.6" stroke-dashoffset="-0.6" stroke-linejoin="round"/><rect x="458.32" y="590.16" width="85.7" height="95.1" fill="none" stroke="#444" stroke-width="1.5"/><path d="M453.95 685.26H458.32M453.95 637.71H458.32M453.95 590.16H458.32M462.22 685.26V689.63M514.15 685.26V689.63" stroke="#444" stroke-width="1.5" fill="none"/></g>
<g><text x="565.54" y="680.26" font-size="13.2" class="b" fill="#000" textLength="41.76" lengthAdjust="spacingAndGlyphs">6 -&gt; 6</text><polygon points="565.15,588.76 591.12,637.55 617.08,638.96 643.05,640.11 643.05,642.91 617.08,641.76 591.12,640.35 565.15,591.56" fill="#ccccff"/><polyline points="565.15,590.16 591.12,638.95 617.08,638.95 643.05,638.95" fill="none" stroke="#000" stroke-width="1.88" stroke-linejoin="round" stroke-linecap="square"/><polyline points="565.15,590.16 591.12,638.95 617.08,640.36 643.05,641.51" fill="none" stroke="#00f" stroke-width="2" stroke-dasharray="7.3 2.6" stroke-dashoffset="-0.6" stroke-linejoin="round"/><rect x="561.25" y="590.16" width="85.7" height="95.1" fill="none" stroke="#444" stroke-width="1.5"/><path d="M556.88 685.26H561.25M556.88 637.71H561.25M556.88 590.16H561.25M565.15 685.26V689.63M617.08 685.26V689.63" stroke="#444" stroke-width="1.5" fill="none"/></g>
<g><text x="668.47" y="680.26" font-size="13.2" class="b" fill="#000" textLength="41.76" lengthAdjust="spacingAndGlyphs">6 -&gt; 7</text><polygon points="668.08,683.86 694.05,656.28 720.01,655.34 745.98,654.57 745.98,657.37 720.01,658.14 694.05,659.08 668.08,686.66" fill="#ccccff"/><polyline points="668.08,685.26 694.05,657.68 720.01,657.54 745.98,657.4" fill="none" stroke="#000" stroke-width="1.88" stroke-linejoin="round" stroke-linecap="square"/><polyline points="668.08,685.26 694.05,657.68 720.01,656.74 745.98,655.97" fill="none" stroke="#00f" stroke-width="2" stroke-dasharray="7.3 2.6" stroke-dashoffset="-0.6" stroke-linejoin="round"/><rect x="664.18" y="590.16" width="85.7" height="95.1" fill="none" stroke="#444" stroke-width="1.5"/><path d="M659.81 685.26H664.18M659.81 637.71H664.18M659.81 590.16H664.18M668.08 685.26V689.63M720.01 685.26V689.63" stroke="#444" stroke-width="1.5" fill="none"/></g>
<g><text x="50.89" y="794.38" font-size="13.2" class="b" fill="#000" textLength="41.76" lengthAdjust="spacingAndGlyphs">7 -&gt; 1</text><polyline points="50.5,799.38 76.47,799.19 102.43,799.19 128.4,799.19" fill="none" stroke="#000" stroke-width="1.88" stroke-linejoin="round" stroke-linecap="square"/><polyline points="50.5,799.38 76.47,799.19 102.43,799.19 128.4,799.19" fill="none" stroke="#00f" stroke-width="2" stroke-dasharray="7.3 2.6" stroke-dashoffset="-0.6" stroke-linejoin="round"/><rect x="46.6" y="704.28" width="85.7" height="95.1" fill="none" stroke="#444" stroke-width="1.5"/><path d="M42.23 799.38H46.6M42.23 751.83H46.6M42.23 704.28H46.6M50.5 799.38V803.75M102.43 799.38V803.75" stroke="#444" stroke-width="1.5" fill="none"/><text x="37.2" y="804.12" font-size="13.8" class="r" fill="#2a2a2a" text-anchor="end" textLength="18.9" lengthAdjust="spacingAndGlyphs">0.0</text><text x="37.2" y="756.57" font-size="13.8" class="r" fill="#2a2a2a" text-anchor="end" textLength="18.9" lengthAdjust="spacingAndGlyphs">0.5</text><text x="37.2" y="709.02" font-size="13.8" class="r" fill="#2a2a2a" text-anchor="end" textLength="18.9" lengthAdjust="spacingAndGlyphs">1.0</text><text transform="translate(11 753.03) rotate(-90)" font-size="13.2" class="r" fill="#2a2a2a" text-anchor="middle" textLength="66.7" lengthAdjust="spacingAndGlyphs">probability</text><text x="50.5" y="818" font-size="13.8" class="r" fill="#2a2a2a" text-anchor="middle" textLength="7.95" lengthAdjust="spacingAndGlyphs">0</text><text x="102.43" y="818" font-size="13.8" class="r" fill="#2a2a2a" text-anchor="middle" textLength="15.91" lengthAdjust="spacingAndGlyphs">10</text><text x="89.45" y="834.8" font-size="13.2" class="r" fill="#2a2a2a" text-anchor="middle" textLength="79.44" lengthAdjust="spacingAndGlyphs">lag time (ns)</text></g>
<g><text x="153.81" y="794.38" font-size="13.2" class="b" fill="#000" textLength="41.76" lengthAdjust="spacingAndGlyphs">7 -&gt; 2</text><polyline points="153.43,799.38 179.4,798.9 205.36,798.9 231.33,798.9" fill="none" stroke="#000" stroke-width="1.88" stroke-linejoin="round" stroke-linecap="square"/><polyline points="153.43,799.38 179.4,798.9 205.36,798.9 231.33,798.9" fill="none" stroke="#00f" stroke-width="2" stroke-dasharray="7.3 2.6" stroke-dashoffset="-0.6" stroke-linejoin="round"/><rect x="149.53" y="704.28" width="85.7" height="95.1" fill="none" stroke="#444" stroke-width="1.5"/><path d="M145.16 799.38H149.53M145.16 751.83H149.53M145.16 704.28H149.53M153.43 799.38V803.75M205.36 799.38V803.75" stroke="#444" stroke-width="1.5" fill="none"/><text x="153.43" y="818" font-size="13.8" class="r" fill="#2a2a2a" text-anchor="middle" textLength="7.95" lengthAdjust="spacingAndGlyphs">0</text><text x="205.36" y="818" font-size="13.8" class="r" fill="#2a2a2a" text-anchor="middle" textLength="15.91" lengthAdjust="spacingAndGlyphs">10</text><text x="192.38" y="834.8" font-size="13.2" class="r" fill="#2a2a2a" text-anchor="middle" textLength="79.44" lengthAdjust="spacingAndGlyphs">lag time (ns)</text></g>
<g><text x="256.75" y="794.38" font-size="13.2" class="b" fill="#000" textLength="41.76" lengthAdjust="spacingAndGlyphs">7 -&gt; 3</text><polyline points="256.36,799.38 282.33,793.48 308.29,793.48 334.26,793.48" fill="none" stroke="#000" stroke-width="1.88" stroke-linejoin="round" stroke-linecap="square"/><polyline points="256.36,799.38 282.33,793.48 308.29,793.48 334.26,793.48" fill="none" stroke="#00f" stroke-width="2" stroke-dasharray="7.3 2.6" stroke-dashoffset="-0.6" stroke-linejoin="round"/><rect x="252.46" y="704.28" width="85.7" height="95.1" fill="none" stroke="#444" stroke-width="1.5"/><path d="M248.09 799.38H252.46M248.09 751.83H252.46M248.09 704.28H252.46M256.36 799.38V803.75M308.29 799.38V803.75" stroke="#444" stroke-width="1.5" fill="none"/><text x="256.36" y="818" font-size="13.8" class="r" fill="#2a2a2a" text-anchor="middle" textLength="7.95" lengthAdjust="spacingAndGlyphs">0</text><text x="308.29" y="818" font-size="13.8" class="r" fill="#2a2a2a" text-anchor="middle" textLength="15.91" lengthAdjust="spacingAndGlyphs">10</text><text x="295.31" y="834.8" font-size="13.2" class="r" fill="#2a2a2a" text-anchor="middle" textLength="79.44" lengthAdjust="spacingAndGlyphs">lag time (ns)</text></g>
<g><text x="359.68" y="794.38" font-size="13.2" class="b" fill="#000" textLength="41.76" lengthAdjust="spacingAndGlyphs">7 -&gt; 4</text><polyline points="359.29,799.38 385.26,794.43 411.22,794.43 437.19,794.43" fill="none" stroke="#000" stroke-width="1.88" stroke-linejoin="round" stroke-linecap="square"/><polyline points="359.29,799.38 385.26,794.43 411.22,794.43 437.19,794.43" fill="none" stroke="#00f" stroke-width="2" stroke-dasharray="7.3 2.6" stroke-dashoffset="-0.6" stroke-linejoin="round"/><rect x="355.39" y="704.28" width="85.7" height="95.1" fill="none" stroke="#444" stroke-width="1.5"/><path d="M351.02 799.38H355.39M351.02 751.83H355.39M351.02 704.28H355.39M359.29 799.38V803.75M411.22 799.38V803.75" stroke="#444" stroke-width="1.5" fill="none"/><text x="359.29" y="818" font-size="13.8" class="r" fill="#2a2a2a" text-anchor="middle" textLength="7.95" lengthAdjust="spacingAndGlyphs">0</text><text x="411.22" y="818" font-size="13.8" class="r" fill="#2a2a2a" text-anchor="middle" textLength="15.91" lengthAdjust="spacingAndGlyphs">10</text><text x="398.24" y="834.8" font-size="13.2" class="r" fill="#2a2a2a" text-anchor="middle" textLength="79.44" lengthAdjust="spacingAndGlyphs">lag time (ns)</text></g>
<g><text x="462.61" y="794.38" font-size="13.2" class="b" fill="#000" textLength="41.76" lengthAdjust="spacingAndGlyphs">7 -&gt; 5</text><polyline points="462.22,799.38 488.19,795.29 514.15,795.29 540.12,795.29" fill="none" stroke="#000" stroke-width="1.88" stroke-linejoin="round" stroke-linecap="square"/><polyline points="462.22,799.38 488.19,795.29 514.15,795.29 540.12,795.29" fill="none" stroke="#00f" stroke-width="2" stroke-dasharray="7.3 2.6" stroke-dashoffset="-0.6" stroke-linejoin="round"/><rect x="458.32" y="704.28" width="85.7" height="95.1" fill="none" stroke="#444" stroke-width="1.5"/><path d="M453.95 799.38H458.32M453.95 751.83H458.32M453.95 704.28H458.32M462.22 799.38V803.75M514.15 799.38V803.75" stroke="#444" stroke-width="1.5" fill="none"/><text x="462.22" y="818" font-size="13.8" class="r" fill="#2a2a2a" text-anchor="middle" textLength="7.95" lengthAdjust="spacingAndGlyphs">0</text><text x="514.15" y="818" font-size="13.8" class="r" fill="#2a2a2a" text-anchor="middle" textLength="15.91" lengthAdjust="spacingAndGlyphs">10</text><text x="501.17" y="834.8" font-size="13.2" class="r" fill="#2a2a2a" text-anchor="middle" textLength="79.44" lengthAdjust="spacingAndGlyphs">lag time (ns)</text></g>
<g><text x="565.54" y="794.38" font-size="13.2" class="b" fill="#000" textLength="41.76" lengthAdjust="spacingAndGlyphs">7 -&gt; 6</text><polyline points="565.15,799.38 591.12,786.54 617.08,786.45 643.05,786.35" fill="none" stroke="#000" stroke-width="1.88" stroke-linejoin="round" stroke-linecap="square"/><polyline points="565.15,799.38 591.12,786.54 617.08,786.44 643.05,786.35" fill="none" stroke="#00f" stroke-width="2" stroke-dasharray="7.3 2.6" stroke-dashoffset="-0.6" stroke-linejoin="round"/><rect x="561.25" y="704.28" width="85.7" height="95.1" fill="none" stroke="#444" stroke-width="1.5"/><path d="M556.88 799.38H561.25M556.88 751.83H561.25M556.88 704.28H561.25M565.15 799.38V803.75M617.08 799.38V803.75" stroke="#444" stroke-width="1.5" fill="none"/><text x="565.15" y="818" font-size="13.8" class="r" fill="#2a2a2a" text-anchor="middle" textLength="7.95" lengthAdjust="spacingAndGlyphs">0</text><text x="617.08" y="818" font-size="13.8" class="r" fill="#2a2a2a" text-anchor="middle" textLength="15.91" lengthAdjust="spacingAndGlyphs">10</text><text x="604.1" y="834.8" font-size="13.2" class="r" fill="#2a2a2a" text-anchor="middle" textLength="79.44" lengthAdjust="spacingAndGlyphs">lag time (ns)</text></g>
<g><text x="668.47" y="794.38" font-size="13.2" class="b" fill="#000" textLength="41.76" lengthAdjust="spacingAndGlyphs">7 -&gt; 7</text><polygon points="668.08,702.88 694.05,731.41 720.01,732.09 745.98,732.65 745.98,735.45 720.01,734.89 694.05,734.21 668.08,705.68" fill="#ccccff"/><polyline points="668.08,704.28 694.05,732.81 720.01,732.91 745.98,733" fill="none" stroke="#000" stroke-width="1.88" stroke-linejoin="round" stroke-linecap="square"/><polyline points="668.08,704.28 694.05,732.81 720.01,733.49 745.98,734.05" fill="none" stroke="#00f" stroke-width="2" stroke-dasharray="7.3 2.6" stroke-dashoffset="-0.6" stroke-linejoin="round"/><rect x="664.18" y="704.28" width="85.7" height="95.1" fill="none" stroke="#444" stroke-width="1.5"/><path d="M659.81 799.38H664.18M659.81 751.83H664.18M659.81 704.28H664.18M668.08 799.38V803.75M720.01 799.38V803.75" stroke="#444" stroke-width="1.5" fill="none"/><text x="668.08" y="818" font-size="13.8" class="r" fill="#2a2a2a" text-anchor="middle" textLength="7.95" lengthAdjust="spacingAndGlyphs">0</text><text x="720.01" y="818" font-size="13.8" class="r" fill="#2a2a2a" text-anchor="middle" textLength="15.91" lengthAdjust="spacingAndGlyphs">10</text><text x="707.03" y="834.8" font-size="13.2" class="r" fill="#2a2a2a" text-anchor="middle" textLength="79.44" lengthAdjust="spacingAndGlyphs">lag time (ns)</text></g>
</g></svg></body></html>
